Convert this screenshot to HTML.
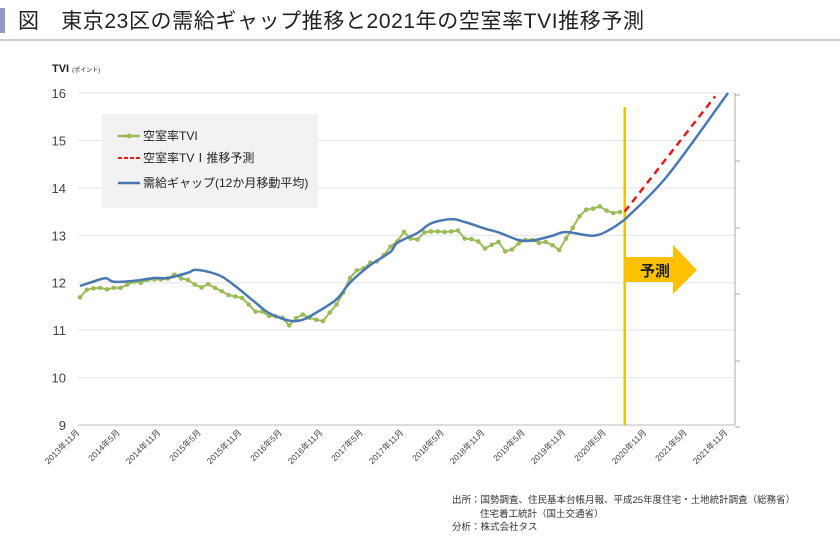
<!DOCTYPE html>
<html><head><meta charset="utf-8"><style>
body{margin:0;background:#fff;font-family:"Liberation Sans","Noto Sans CJK JP",sans-serif;}
svg text{font-family:"Liberation Sans","Noto Sans CJK JP",sans-serif;}
</style></head><body>
<svg id="c" width="840" height="537" viewBox="0 0 840 537" xmlns="http://www.w3.org/2000/svg">
<rect x="0" y="8" width="5" height="25" fill="#8e9ac4"/>
<text x="18" y="28" font-size="21" letter-spacing="0.6" fill="#222">図　東京23区の需給ギャップ推移と2021年の空室率TVI推移予測</text>
<line x1="0" y1="40" x2="840" y2="40" stroke="#999" stroke-width="1"/>
<text x="52" y="72" font-size="11" font-weight="bold" fill="#222">TVI <tspan font-size="6" font-weight="normal">(ポイント)</tspan></text>
<g id="grid"></g><g id="series"></g>
<text x="452" y="503" font-size="9.5" fill="#333">出所：国勢調査、住民基本台帳月報、平成25年度住宅・土地統計調査（総務省）</text>
<text x="480" y="517" font-size="9.5" fill="#333">住宅着工統計（国土交通省）</text>
<text x="452" y="530" font-size="9.5" fill="#333">分析：株式会社タス</text>
</svg>
<script>
const yTicks=[9,10,11,12,13,14,15,16];
const xLabels=["2013年11月","2014年5月","2014年11月","2015年5月","2015年11月","2016年5月","2016年11月","2017年5月","2017年11月","2018年5月","2018年11月","2019年5月","2019年11月","2020年5月","2020年11月","2021年5月","2021年11月"];
const tviValues=[11.69,11.85,11.88,11.89,11.86,11.89,11.89,11.96,12.02,12.0,12.06,12.07,12.07,12.09,12.17,12.09,12.06,11.96,11.9,11.97,11.89,11.82,11.74,11.71,11.68,11.54,11.39,11.39,11.3,11.29,11.26,11.1,11.25,11.33,11.26,11.22,11.19,11.37,11.54,11.79,12.1,12.26,12.3,12.42,12.45,12.58,12.76,12.87,13.07,12.93,12.91,13.06,13.08,13.08,13.07,13.08,13.1,12.93,12.92,12.87,12.72,12.8,12.86,12.66,12.7,12.83,12.9,12.9,12.84,12.86,12.79,12.69,12.93,13.16,13.4,13.54,13.56,13.61,13.52,13.47,13.49];
const gapMonths=[0,3,4,5,8,11,13,16,17,19,21,23,26,28,31,33,35,38,40,43,46,47,50,52,55,57,60,62,65,67,70,72,76,78.5,80.7];
const gapValues=[11.93,12.07,12.09,12.02,12.04,12.1,12.1,12.21,12.27,12.23,12.13,11.93,11.58,11.36,11.2,11.22,11.37,11.65,12.0,12.37,12.65,12.84,13.05,13.25,13.34,13.28,13.14,13.06,12.9,12.89,12.99,13.07,12.99,13.12,13.33];
const gapFcMonths=[80.7,87,96];
const gapFcValues=[13.33,14.25,16.0];
const fcMonths=[80.7,94.1];
const fcValues=[13.5,15.93];
const cutMonth=80.7;
const NS="http://www.w3.org/2000/svg";
const X=m=>80+6.75*m, Y=v=>425-(v-9)*47.43;
function mk(t,a,p){const e=document.createElementNS(NS,t);for(const k in a)e.setAttribute(k,a[k]);p.appendChild(e);return e;}
const g=document.getElementById('grid'), s=document.getElementById('series');
yTicks.forEach(v=>{
 const l=mk('line',{x1:78,x2:735,y1:Y(v),y2:Y(v),stroke:v==9?'#bbb':'#e3e3e3','stroke-width':1},g);
 
 
 const t=mk('text',{x:66,y:Y(v)+5,'font-size':13,'text-anchor':'end',fill:'#444'},g);t.textContent=v;
 
 
});
const ra=mk('line',{x1:735,x2:735,y1:Y(16),y2:Y(9),stroke:'#aaa'},g);


[95,161,228,294,361,427].forEach(y=>{mk('line',{x1:735,x2:740,y1:y,y2:y,stroke:'#aaa'},g);});
xLabels.forEach((lb,i)=>{
 const x=X(i*6);
 const t=mk('text',{x:x,y:433,'font-size':8.5,'text-anchor':'end',fill:'#444',transform:`rotate(-45 ${x} 433)`},g);t.textContent=lb;
 
 
});
const lg=mk('g',{},s);


mk('rect',{x:102,y:114,width:216,height:94,fill:'#f2f2f2'},lg);
mk('line',{x1:118,x2:140,y1:136,y2:136,stroke:'#9bbb59','stroke-width':2.5},lg);
mk('circle',{cx:129,cy:136,r:2.5,fill:'#9bbb59'},lg);
mk('line',{x1:118,x2:140,y1:158,y2:158,stroke:'#e31a1c','stroke-width':2,'stroke-dasharray':'4 2'},lg);
mk('line',{x1:118,x2:140,y1:183,y2:183,stroke:'#4a78b0','stroke-width':2.5},lg);
[['空室率TVI',140],['空室率TVⅠ推移予測',162],['需給ギャップ(12か月移動平均)',187]].forEach((a,i)=>{const t=mk('text',{x:143,y:a[1],'font-size':12,fill:'#222'},lg);t.textContent=a[0];
 
 });
const vl=mk('line',{x1:X(cutMonth),x2:X(cutMonth),y1:107,y2:425,stroke:'#f5c000','stroke-width':2.5},s);


const ar=mk('polygon',{points:`${X(cutMonth)},257 673,257 673,245 697,270 673,294 673,282 ${X(cutMonth)},282`,fill:'#ffc000'},s);


const at=mk('text',{x:640,y:276,'font-size':15,'font-weight':'bold',fill:'#222'},s);at.textContent='予測';


function smooth(pts){let d=`M${pts[0][0]},${pts[0][1]}`;for(let i=0;i<pts.length-1;i++){const p0=pts[Math.max(0,i-1)],p1=pts[i],p2=pts[i+1],p3=pts[Math.min(pts.length-1,i+2)];
 d+=` C${p1[0]+(p2[0]-p0[0])/6},${p1[1]+(p2[1]-p0[1])/6} ${p2[0]-(p3[0]-p1[0])/6},${p2[1]-(p3[1]-p1[1])/6} ${p2[0]},${p2[1]}`;}return d;}
const fc=mk('path',{d:`M${X(fcMonths[0])},${Y(fcValues[0])} L${X(fcMonths[1])},${Y(fcValues[1])}`,stroke:'#e31a1c','stroke-width':2.5,fill:'none','stroke-dasharray':'7 5'},s);


const tp=mk('path',{d:tviValues.map((v,i)=>(i?'L':'M')+X(i)+','+Y(v)).join(' '),stroke:'#9bbb59','stroke-width':2,fill:'none'},s);


tviValues.forEach((v,i)=>{const c=mk('circle',{cx:X(i),cy:Y(v),r:2.3,fill:'#9bbb59'},s);
 
 });
const gp=mk('path',{d:smooth(gapMonths.map((m,i)=>[X(m),Y(gapValues[i])])),stroke:'#4a78b0','stroke-width':2.5,fill:'none'},s);


const gf=mk('path',{d:smooth(gapFcMonths.map((m,i)=>[X(m),Y(gapFcValues[i])])),stroke:'#4a78b0','stroke-width':2.5,fill:'none'},s);


</script>
</body></html>
